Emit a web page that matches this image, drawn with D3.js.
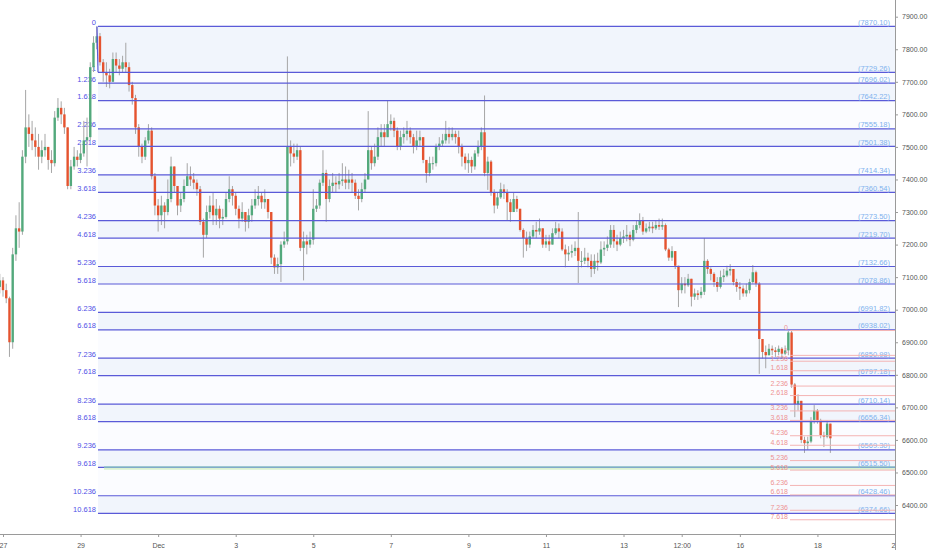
<!DOCTYPE html>
<html>
<head>
<meta charset="utf-8">
<script src="https://cdn.jsdelivr.net/npm/d3@7"></script>
<style>
  body { margin: 0; background: #fff; }
  svg { display: block; font-family: "Liberation Sans", Arial, sans-serif; }
</style>
</head>
<body>
<div id="chart"></div>
<script>
var width = 932, height = 550
  , plotRight = 895, plotBottom = 534;

// 2h candles, BTC/USD, Nov 26 22:00 UTC onward
var startTime = Date.UTC(2019, 10, 26, 22);
var firstOpen = 7070;

var closes = [
  7090,7060,7035,6900,7170,7250,7240,7470,7560,7540,
  7520,7500,7470,7490,7500,7460,7450,7590,7620,7600,
  7560,7380,7440,7470,7460,7480,7520,7530,7745,7820,
  7840,7760,7730,7720,7700,7770,7750,7740,7760,7745,
  7690,7650,7560,7500,7470,7520,7550,7410,7320,7290,
  7320,7300,7340,7440,7380,7320,7340,7380,7410,7400,
  7390,7370,7270,7230,7300,7320,7290,7310,7280,7285,
  7340,7370,7350,7310,7280,7300,7270,7290,7320,7340,
  7350,7330,7340,7300,7160,7130,7140,7200,7210,7500,
  7480,7470,7490,7190,7210,7200,7215,7310,7320,7390,
  7420,7340,7380,7390,7385,7395,7400,7390,7400,7390,
  7350,7340,7370,7400,7490,7450,7470,7530,7545,7530,
  7570,7580,7550,7500,7530,7540,7550,7530,7500,7520,
  7530,7460,7420,7450,7450,7500,7510,7520,7540,7530,
  7540,7530,7500,7470,7450,7460,7440,7480,7500,7545,
  7420,7455,7360,7320,7345,7370,7360,7330,7300,7340,
  7310,7245,7220,7200,7225,7245,7240,7250,7200,7210,
  7200,7235,7250,7240,7185,7170,7175,7180,7190,7150,
  7150,7160,7150,7125,7150,7145,7185,7190,7200,7245,
  7210,7200,7220,7225,7230,7215,7245,7260,7275,7240,
  7250,7255,7250,7260,7255,7260,7185,7160,7180,7135,
  7060,7080,7075,7095,7040,7050,7045,7055,7150,7125,
  7110,7085,7070,7100,7105,7120,7125,7085,7070,7065,
  7050,7060,7085,7115,7080,6910,6870,6860,6880,6875,
  6870,6880,6865,6875,6930,6770,6710,6720,6600,6590,
  6595,6660,6690,6660,6615,6610,6650,6605
];

var highs = [
  7110,7100,7080,7040,7190,7290,7330,7490,7675,7600,
  7580,7560,7540,7520,7540,7500,7490,7610,7650,7640,
  7620,7560,7460,7500,7490,7510,7580,7590,7760,7840,
  7870,7850,7770,7760,7740,7790,7790,7770,7780,7820,
  7760,7700,7660,7570,7510,7530,7570,7560,7420,7340,
  7350,7330,7400,7470,7440,7380,7360,7400,7450,7440,
  7420,7400,7380,7280,7320,7350,7360,7340,7320,7310,
  7360,7410,7380,7360,7320,7330,7300,7310,7340,7370,
  7380,7360,7370,7340,7300,7170,7160,7210,7240,7778,
  7520,7510,7510,7500,7240,7230,7240,7370,7340,7400,
  7490,7430,7400,7420,7410,7420,7450,7440,7430,7420,
  7400,7370,7390,7420,7610,7500,7510,7560,7570,7570,
  7644,7600,7590,7560,7550,7560,7580,7560,7540,7550,
  7550,7530,7460,7470,7470,7510,7530,7540,7580,7560,
  7560,7550,7550,7510,7480,7480,7470,7490,7520,7560,
  7658,7470,7460,7370,7360,7390,7385,7370,7340,7360,
  7350,7310,7250,7240,7240,7260,7270,7280,7250,7230,
  7230,7250,7270,7265,7250,7200,7195,7200,7210,7300,
  7180,7190,7175,7170,7170,7175,7210,7210,7225,7260,
  7260,7230,7240,7245,7260,7240,7260,7275,7296,7285,
  7265,7270,7270,7275,7280,7280,7265,7190,7195,7180,
  7135,7100,7100,7110,7095,7065,7060,7070,7220,7155,
  7130,7115,7100,7120,7125,7135,7140,7125,7095,7085,
  7075,7080,7095,7137,7120,7085,6910,6890,6895,6890,
  6885,6890,6885,6890,6935,6935,6775,6740,6720,6610,
  6610,6670,6707,6695,6665,6625,6660,6650
];

var lows = [
  7050,7040,7020,6855,6880,7150,7190,7230,7450,7500,
  7490,7470,7430,7450,7470,7430,7420,7440,7580,7570,
  7540,7370,7370,7430,7440,7450,7470,7440,7520,7730,
  7800,7750,7700,7684,7680,7700,7730,7720,7730,7730,
  7670,7630,7540,7470,7450,7460,7510,7400,7290,7240,
  7260,7250,7290,7330,7360,7290,7300,7330,7380,7380,
  7370,7350,7260,7160,7220,7280,7260,7260,7250,7260,
  7280,7330,7320,7290,7250,7270,7240,7250,7270,7310,
  7320,7310,7310,7280,7140,7110,7110,7085,7190,7200,
  7440,7450,7460,7180,7090,7170,7190,7200,7300,7310,
  7380,7270,7330,7360,7360,7370,7380,7370,7370,7360,
  7340,7305,7330,7360,7400,7430,7440,7460,7500,7500,
  7530,7550,7530,7490,7490,7510,7520,7510,7480,7490,
  7500,7450,7390,7410,7430,7440,7490,7500,7510,7510,
  7520,7510,7480,7440,7430,7420,7420,7430,7470,7490,
  7410,7368,7350,7296,7310,7340,7340,7275,7270,7300,
  7300,7240,7160,7180,7190,7220,7220,7230,7190,7190,
  7180,7200,7230,7220,7180,7130,7150,7160,7165,7082,
  7130,7140,7130,7100,7110,7120,7140,7165,7180,7190,
  7190,7180,7195,7205,7210,7195,7210,7235,7250,7230,
  7235,7240,7235,7245,7245,7245,7180,7150,7150,7125,
  7008,7050,7050,7070,7010,7030,7030,7035,7045,7110,
  7090,7070,7055,7065,7085,7100,7105,7075,7055,7030,
  7040,7040,7050,7080,7070,6803,6850,6820,6860,6860,
  6855,6860,6850,6860,6860,6760,6670,6690,6590,6560,
  6570,6590,6650,6650,6605,6578,6605,6560
];

// big fib extension (blue)
var fibRatios = ["0","1","1.236","1.618","2.236","2.618","3.236","3.618","4.236","4.618","5.236",
                 "5.618","6.236","6.618","7.236","7.618","8.236","8.618","9.236","9.618","10.236","10.618"];
var fibPrices = [7870.10,7729.26,7696.02,7642.22,7555.18,7501.38,7414.34,7360.54,7273.50,7219.70,7132.66,
                 7078.86,6991.82,6938.02,6850.98,6797.18,6710.14,6656.34,6569.30,6515.50,6428.46,6374.66];

// small fib extension (pink)
var extRatios = ["0","1","1.236","1.618","2.236","2.618","3.236","3.618","4.236","4.618",
                 "5.236","5.618","6.236","6.618","7.236","7.618"];
var extPrices = [6936.0,6859.7,6841.7,6812.5,6765.4,6736.2,6689.1,6660.0,6612.8,6583.6,
                 6536.5,6507.3,6460.2,6431.0,6383.9,6354.7];

// horizontal lines
var hLinePrices = [6511, 6517];
var hLineColors = ["#d9f2d0", "#8fc6c6"];

var priceTicks = [6400,6500,6600,6700,6800,6900,7000,7100,7200,7300,7400,7500,7600,7700,7800,7900];
var timeTicks = [
  Date.UTC(2019,10,27), Date.UTC(2019,10,29), Date.UTC(2019,11,1), Date.UTC(2019,11,3),
  Date.UTC(2019,11,5), Date.UTC(2019,11,7), Date.UTC(2019,11,9), Date.UTC(2019,11,11),
  Date.UTC(2019,11,13), Date.UTC(2019,11,14,12), Date.UTC(2019,11,16), Date.UTC(2019,11,18),
  Date.UTC(2019,11,20)
];
var timeLabels = ["27","29","Dec","3","5","7","9","11","13","12:00","16","18","20"];

var candles = closes.map(function(c, i) {
  return {
    t: new Date(startTime + i * 2 * 3600 * 1000),
    o: i === 0 ? firstOpen : closes[i - 1],
    h: highs[i],
    l: lows[i],
    c: c
  };
});

var x = d3.scaleUtc()
    .domain([new Date(Date.UTC(2019,10,27)), new Date(Date.UTC(2019,11,20))])
    .range([3, 895]);

var y = d3.scaleLinear()
    .domain([6311, 7951.3])
    .range([plotBottom, 0]);

var svg = d3.select("#chart").append("svg")
    .attr("width", width)
    .attr("height", height);

var fibX0 = 98, extX0 = 790;

// bands between blue levels
var bandG = svg.append("g");
for (var k = 0; k < fibPrices.length - 1; k++) {
  var r = fibRatios[k];
  var dark = /\.236$/.test(r) || r === "0";
  bandG.append("rect")
      .attr("x", fibX0)
      .attr("y", y(fibPrices[k]))
      .attr("width", plotRight - fibX0)
      .attr("height", y(fibPrices[k + 1]) - y(fibPrices[k]))
      .style("fill", dark ? "#f1f5fc" : "#fbfcff");
}

// blue level labels (left), drawn below candles
svg.append("g").selectAll("text").data(fibRatios).enter().append("text")
    .attr("x", fibX0 - 2)
    .attr("y", function(d, i) { return y(fibPrices[i]) - 1.5; })
    .attr("text-anchor", "end")
    .style("font-size", "7.5px")
    .style("fill", "#4f4fe6")
    .text(function(d) { return d; });

// candles
var cg = svg.append("g");
var bw = 2.4;
cg.selectAll("line").data(candles).enter().append("line")
    .attr("x1", function(d) { return x(d.t); })
    .attr("x2", function(d) { return x(d.t); })
    .attr("y1", function(d) { return y(Math.max(d.h, d.o, d.c)); })
    .attr("y2", function(d) { return y(Math.min(d.l, d.o, d.c)); })
    .style("stroke", "#a6a6a6")
    .style("stroke-width", 1);

cg.selectAll("rect").data(candles).enter().append("rect")
    .attr("x", function(d) { return x(d.t) - bw / 2; })
    .attr("y", function(d) { return y(Math.max(d.o, d.c)); })
    .attr("width", bw)
    .attr("height", function(d) { return Math.max(1, Math.abs(y(d.o) - y(d.c))); })
    .style("fill", function(d) { return d.c >= d.o ? "#53a97c" : "#e5532f"; });

// blue level lines
svg.append("g").selectAll("line").data(fibPrices).enter().append("line")
    .attr("x1", fibX0)
    .attr("x2", plotRight)
    .attr("y1", function(d) { return y(d); })
    .attr("y2", function(d) { return y(d); })
    .style("stroke", "#5a5ad8")
    .style("stroke-width", 1.2);

svg.append("line")
    .attr("x1", fibX0 - 1).attr("y1", y(fibPrices[0]))
    .attr("x2", fibX0).attr("y2", y(fibPrices[1]))
    .style("stroke", "#5a5ad8").style("stroke-width", 1.2);

// teal / green horizontal lines
svg.append("g").selectAll("line").data(hLinePrices).enter().append("line")
    .attr("x1", 104)
    .attr("x2", plotRight)
    .attr("y1", function(d) { return y(d); })
    .attr("y2", function(d) { return y(d); })
    .style("stroke", function(d, i) { return hLineColors[i]; })
    .style("stroke-width", 1.6);

// blue price labels (right)
svg.append("g").selectAll("text").data(fibPrices).enter().append("text")
    .attr("x", plotRight - 5)
    .attr("y", function(d) { return y(d) - 1.5; })
    .attr("text-anchor", "end")
    .style("font-size", "7.5px")
    .style("fill", "#80b2ee")
    .text(function(d) { return "(" + d.toFixed(2) + ")"; });

// pink extension
svg.append("g").selectAll("line").data(extPrices).enter().append("line")
    .attr("x1", extX0)
    .attr("x2", plotRight)
    .attr("y1", function(d) { return y(d); })
    .attr("y2", function(d) { return y(d); })
    .style("stroke", "#f4b4b4")
    .style("stroke-width", 1);

svg.append("g").selectAll("text").data(extRatios).enter().append("text")
    .attr("x", extX0 - 2)
    .attr("y", function(d, i) { return y(extPrices[i]) - (d === "1" ? 2.5 : 0.5); })
    .attr("text-anchor", "end")
    .style("font-size", "7px")
    .style("fill", "#ee9393")
    .text(function(d) { return d; });

// axis panels
svg.append("rect").attr("x", 0).attr("y", plotBottom).attr("width", plotRight).attr("height", height - plotBottom).style("fill", "#fff");

// time axis
var xAxis = d3.axisBottom(x)
    .tickValues(timeTicks.map(function(t) { return new Date(t); }))
    .tickFormat(function(d, i) { return timeLabels[i]; })
    .tickSize(3)
    .tickSizeOuter(0);

var gx = svg.append("g")
    .attr("transform", "translate(0," + plotBottom + ")")
    .call(xAxis);
gx.select(".domain").attr("d", "M0,0.5H" + plotRight).style("stroke", "#9a9a9a");
gx.selectAll(".tick line").style("stroke", "#9a9a9a");
gx.selectAll(".tick text")
    .attr("y", 9)
    .style("font-size", "7px")
    .style("font-family", "Liberation Sans, Arial, sans-serif")
    .style("fill", "#555");

// price axis
var yAxis = d3.axisRight(y)
    .tickValues(priceTicks)
    .tickFormat(function(d) { return d3.format(".2f")(d); })
    .tickSize(3)
    .tickSizeOuter(0);

svg.append("rect").attr("x", plotRight + 0.5).attr("y", 0).attr("width", width - plotRight).attr("height", height).style("fill", "#fff");

var gy = svg.append("g")
    .attr("transform", "translate(" + plotRight + ",0)")
    .call(yAxis);
gy.select(".domain").attr("d", "M0.5,0V" + height).style("stroke", "#9a9a9a");
gy.selectAll(".tick line").style("stroke", "#9a9a9a");
gy.selectAll(".tick text")
    .attr("x", 7)
    .style("font-size", "7px")
    .style("font-family", "Liberation Sans, Arial, sans-serif")
    .style("fill", "#555");
</script>
</body>
</html>
